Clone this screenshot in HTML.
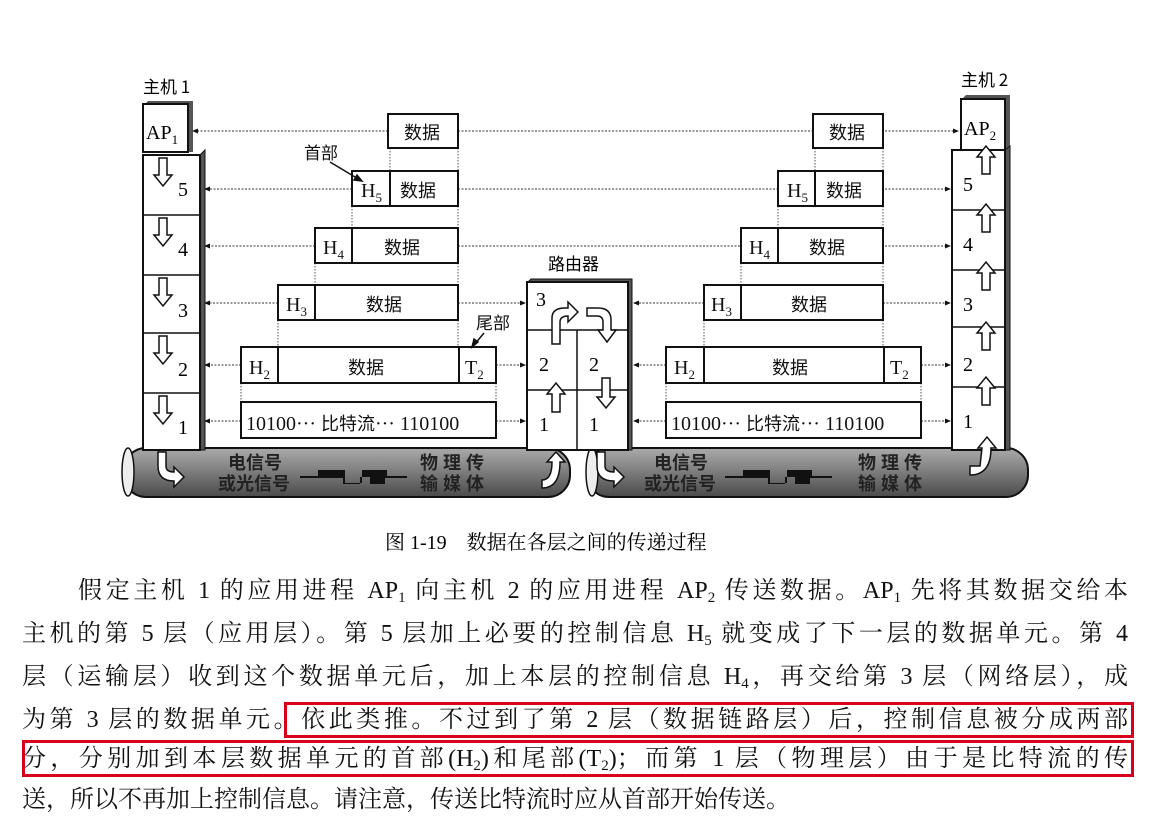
<!DOCTYPE html>
<html><head><meta charset="utf-8"><style>
html,body{margin:0;padding:0;background:#fff;}
body{width:1159px;height:819px;position:relative;overflow:hidden;font-family:"Liberation Serif","Noto Serif CJK SC",serif;color:#111;}
svg{position:absolute;left:0;top:0;}
.ln{position:absolute;left:22px;width:1106px;font-size:24px;line-height:30px;height:30px;text-align:justify;text-align-last:justify;white-space:nowrap;}
.ln sub{font-size:15px;vertical-align:-4px;line-height:0;}
.rb{position:absolute;border:3px solid #d9001b;box-sizing:border-box;}
</style></head><body>
<svg width="1159" height="819" viewBox="0 0 1159 819" font-family="Liberation Serif, Noto Serif CJK SC, serif">
<defs>
<linearGradient id="cab" x1="0" y1="0" x2="0" y2="1">
<stop offset="0" stop-color="#aaa"/><stop offset="0.35" stop-color="#8a8a8a"/><stop offset="1" stop-color="#4a4a4a"/>
</linearGradient>
<marker id="ah" markerWidth="6" markerHeight="6" refX="5" refY="3" orient="auto"><path d="M0,0.5 L6,3 L0,5.5Z" fill="#111"/></marker>
</defs>
<!-- cables -->
<rect x="124" y="448" width="446" height="49" rx="22" fill="url(#cab)" stroke="#111" stroke-width="2"/>
<ellipse cx="128" cy="472" rx="6" ry="24" fill="#eee" stroke="#111" stroke-width="1.5"/>
<rect x="587" y="448" width="441" height="49" rx="22" fill="url(#cab)" stroke="#111" stroke-width="2"/>
<ellipse cx="592" cy="472" rx="6" ry="24" fill="#eee" stroke="#111" stroke-width="1.5"/>
<g font-family="Noto Sans CJK SC, sans-serif" font-size="18" font-weight="bold" fill="#222">
<text x="228" y="469">电信号</text><text x="218" y="490">或光信号</text>
<text x="420" y="469" letter-spacing="5">物理传</text><text x="420" y="490" letter-spacing="5">输媒体</text>
<text x="654" y="469">电信号</text><text x="644" y="490">或光信号</text>
<text x="858" y="469" letter-spacing="5">物理传</text><text x="858" y="490" letter-spacing="5">输媒体</text>
</g>
<g fill="#111">
<path d="M300,476 L318,476 L318,470 L345,470 L345,483 L362,483 L362,470 L387,470 L387,476 L407,476 L407,478 L385,478 L385,484 L370,484 L370,477 L360,477 L360,484 L343,484 L343,478 L300,478Z"/>
<path d="M725,476 L743,476 L743,470 L770,470 L770,483 L787,483 L787,470 L812,470 L812,476 L832,476 L832,478 L810,478 L810,484 L795,484 L795,477 L785,477 L785,484 L768,484 L768,478 L725,478Z"/>
</g>
<!-- host1 -->
<text x="143" y="93" font-family="Noto Sans CJK SC, sans-serif" font-size="17">主机 1</text>
<path d="M143,106 L148,101 L193,101 L193,152 L188,152 Z" fill="#555"/>
<rect x="143" y="104" width="45" height="48" fill="#fff" stroke="#111" stroke-width="2"/>
<text x="146" y="139" font-size="20">AP<tspan font-size="13" dy="5">1</tspan></text>
<path d="M200,155 L205,150 L205,450 L200,450Z" fill="#555" stroke="#111"/>
<rect x="143" y="155" width="57" height="295" fill="#fff" stroke="#111" stroke-width="2"/>
<g stroke="#111" stroke-width="1.5"><line x1="143" y1="215" x2="200" y2="215"/><line x1="143" y1="275" x2="200" y2="275"/><line x1="143" y1="333" x2="200" y2="333"/><line x1="143" y1="393" x2="200" y2="393"/></g>
<g font-size="20"><text x="178" y="196">5</text><text x="178" y="256">4</text><text x="178" y="317">3</text><text x="178" y="376">2</text><text x="178" y="434">1</text></g>
<g fill="#fff" stroke="#111" stroke-width="1.5">
<path d="M159,158 L167,158 L167,175 L172,175 L163,186 L154,175 L159,175Z"/>
<path d="M159,218 L167,218 L167,235 L172,235 L163,246 L154,235 L159,235Z"/>
<path d="M159,278 L167,278 L167,295 L172,295 L163,306 L154,295 L159,295Z"/>
<path d="M159,336 L167,336 L167,353 L172,353 L163,364 L154,353 L159,353Z"/>
<path d="M159,396 L167,396 L167,413 L172,413 L163,424 L154,413 L159,413Z"/>
<path d="M158,452 L166,452 L166,466 Q166,472 174,472 L174,467 L184,477 L174,487 L174,481 Q158,481 158,466Z"/>
</g>
<!-- host2 -->
<text x="961" y="86" font-family="Noto Sans CJK SC, sans-serif" font-size="17">主机 2</text>
<path d="M961,100 L966,95 L1010,95 L1010,150 L1005,150Z" fill="#555"/>
<rect x="961" y="99" width="44" height="51" fill="#fff" stroke="#111" stroke-width="2"/>
<text x="964" y="135" font-size="20">AP<tspan font-size="13" dy="5">2</tspan></text>
<path d="M1005,150 L1010,146 L1010,450 L1005,450Z" fill="#555" stroke="#111"/>
<rect x="952" y="150" width="53" height="300" fill="#fff" stroke="#111" stroke-width="2"/>
<g stroke="#111" stroke-width="1.5"><line x1="952" y1="210" x2="1005" y2="210"/><line x1="952" y1="270" x2="1005" y2="270"/><line x1="952" y1="327" x2="1005" y2="327"/><line x1="952" y1="387" x2="1005" y2="387"/></g>
<g font-size="20"><text x="963" y="191">5</text><text x="963" y="251">4</text><text x="963" y="311">3</text><text x="963" y="371">2</text><text x="963" y="428">1</text></g>
<g fill="#fff" stroke="#111" stroke-width="1.5">
<path d="M982,174 L990,174 L990,157 L995,157 L986,146 L977,157 L982,157Z"/>
<path d="M982,232 L990,232 L990,215 L995,215 L986,204 L977,215 L982,215Z"/>
<path d="M982,290 L990,290 L990,273 L995,273 L986,262 L977,273 L982,273Z"/>
<path d="M982,350 L990,350 L990,333 L995,333 L986,322 L977,333 L982,333Z"/>
<path d="M982,405 L990,405 L990,388 L995,388 L986,377 L977,388 L982,388Z"/>
<path d="M970,466 L980,466 Q982,448 982,448 L978,448 L987,437 L996,448 L991,448 Q991,475 970,475Z"/>
</g>
<!-- router -->
<text x="548" y="270" font-family="Noto Sans CJK SC, sans-serif" font-size="17">路由器</text>
<path d="M527,283 L531,279 L632,279 L632,450 L628,450 L628,283Z" fill="#555" stroke="#111"/>
<rect x="527" y="282" width="101" height="168" fill="#fff" stroke="#111" stroke-width="2"/>
<g stroke="#111" stroke-width="1.5"><line x1="527" y1="330" x2="628" y2="330"/><line x1="527" y1="390" x2="628" y2="390"/><line x1="577" y1="330" x2="577" y2="450"/></g>
<g font-size="20"><text x="536" y="306">3</text><text x="539" y="371">2</text><text x="589" y="371">2</text><text x="539" y="431">1</text><text x="589" y="431">1</text></g>
<g fill="#fff" stroke="#111" stroke-width="1.5">
<path d="M552,344 L552,318 Q552,308 565,308 L568,308 L568,302 L578,312 L568,322 L568,316 Q560,316 560,322 L560,344Z"/>
<path d="M587,308 L598,308 Q611,308 611,320 L611,330 L616,330 L607,342 L598,330 L603,330 L603,322 Q603,316 597,316 L587,316Z"/>
<path d="M552,412 L560,412 L560,394 L565,394 L556,383 L547,394 L552,394Z"/>
<path d="M602,378 L610,378 L610,397 L615,397 L606,408 L597,397 L602,397Z"/>
<path d="M542,480 Q552,480 552,462 L547,462 L556,452 L565,462 L560,462 Q560,488 542,488Z"/>
<path d="M597,452 L605,452 L605,466 Q605,472 614,472 L614,467 L624,477 L614,487 L614,481 Q597,481 597,466Z"/>
</g>
<!-- dashed lines -->
<g stroke="#333" stroke-width="1" stroke-dasharray="2 1.5" fill="none" marker-end="url(#ah)">
<line x1="388" y1="131" x2="193" y2="131"/><line x1="458" y1="131" x2="958" y2="131"/>
<line x1="352" y1="189" x2="205" y2="189"/><line x1="458" y1="189" x2="950" y2="189"/>
<line x1="315" y1="246" x2="205" y2="246"/><line x1="458" y1="246" x2="950" y2="246"/>
<line x1="278" y1="303" x2="205" y2="303"/><line x1="458" y1="303" x2="525" y2="303"/>
<line x1="241" y1="365" x2="205" y2="365"/><line x1="496" y1="365" x2="525" y2="365"/>
<line x1="241" y1="421" x2="205" y2="421"/><line x1="496" y1="421" x2="525" y2="421"/>
<line x1="704" y1="303" x2="634" y2="303"/><line x1="883" y1="303" x2="950" y2="303"/>
<line x1="666" y1="365" x2="634" y2="365"/><line x1="921" y1="365" x2="950" y2="365"/>
<line x1="666" y1="421" x2="634" y2="421"/><line x1="921" y1="421" x2="950" y2="421"/>
</g>
<g stroke="#555" stroke-width="1" stroke-dasharray="1.5 1.5">
<line x1="390" y1="148" x2="390" y2="171"/><line x1="458" y1="148" x2="458" y2="171"/>
<line x1="352" y1="206" x2="352" y2="228"/><line x1="458" y1="206" x2="458" y2="228"/>
<line x1="315" y1="263" x2="315" y2="285"/><line x1="458" y1="263" x2="458" y2="285"/>
<line x1="278" y1="320" x2="278" y2="347"/><line x1="458" y1="320" x2="458" y2="347"/>
<line x1="241" y1="383" x2="241" y2="402"/><line x1="496" y1="383" x2="496" y2="402"/>
<line x1="815" y1="148" x2="815" y2="171"/><line x1="883" y1="148" x2="883" y2="171"/>
<line x1="778" y1="206" x2="778" y2="228"/><line x1="883" y1="206" x2="883" y2="228"/>
<line x1="741" y1="263" x2="741" y2="285"/><line x1="883" y1="263" x2="883" y2="285"/>
<line x1="704" y1="320" x2="704" y2="347"/><line x1="883" y1="320" x2="883" y2="347"/>
<line x1="666" y1="383" x2="666" y2="402"/><line x1="921" y1="383" x2="921" y2="402"/>
</g>
<!-- data boxes -->
<g fill="#fff" stroke="#111" stroke-width="2">
<rect x="388" y="114" width="70" height="34"/>
<rect x="352" y="171" width="106" height="35"/><line x1="390" y1="171" x2="390" y2="206"/>
<rect x="315" y="228" width="143" height="35"/><line x1="352" y1="228" x2="352" y2="263"/>
<rect x="278" y="285" width="180" height="35"/><line x1="315" y1="285" x2="315" y2="320"/>
<rect x="241" y="347" width="255" height="36"/><line x1="278" y1="347" x2="278" y2="383"/><line x1="459" y1="347" x2="459" y2="383"/>
<rect x="241" y="402" width="255" height="36"/>
<rect x="813" y="114" width="70" height="34"/>
<rect x="778" y="171" width="105" height="35"/><line x1="815" y1="171" x2="815" y2="206"/>
<rect x="741" y="228" width="142" height="35"/><line x1="778" y1="228" x2="778" y2="263"/>
<rect x="704" y="285" width="179" height="35"/><line x1="741" y1="285" x2="741" y2="320"/>
<rect x="666" y="347" width="255" height="36"/><line x1="704" y1="347" x2="704" y2="383"/><line x1="884" y1="347" x2="884" y2="383"/>
<rect x="666" y="402" width="255" height="36"/>
</g>
<g font-size="20" fill="#111">
<g font-family="Noto Sans CJK SC, sans-serif" font-size="18">
<text x="404" y="139">数据</text><text x="400" y="197">数据</text><text x="384" y="254">数据</text><text x="366" y="311">数据</text><text x="348" y="374">数据</text>
<text x="829" y="139">数据</text><text x="826" y="197">数据</text><text x="809" y="254">数据</text><text x="791" y="311">数据</text><text x="772" y="374">数据</text>
<text x="304" y="159" font-size="17">首部</text><text x="476" y="329" font-size="17">尾部</text>
</g>
<text x="361" y="197">H<tspan font-size="13" dy="5">5</tspan></text>
<text x="323" y="254">H<tspan font-size="13" dy="5">4</tspan></text>
<text x="286" y="311">H<tspan font-size="13" dy="5">3</tspan></text>
<text x="249" y="374">H<tspan font-size="13" dy="5">2</tspan></text>
<text x="465" y="374">T<tspan font-size="13" dy="5">2</tspan></text>
<text x="246" y="430">10100··· <tspan font-family="Noto Sans CJK SC, sans-serif" font-size="18">比特流</tspan>··· 110100</text>
<text x="787" y="197">H<tspan font-size="13" dy="5">5</tspan></text>
<text x="749" y="254">H<tspan font-size="13" dy="5">4</tspan></text>
<text x="711" y="311">H<tspan font-size="13" dy="5">3</tspan></text>
<text x="674" y="374">H<tspan font-size="13" dy="5">2</tspan></text>
<text x="890" y="374">T<tspan font-size="13" dy="5">2</tspan></text>
<text x="671" y="430">10100··· <tspan font-family="Noto Sans CJK SC, sans-serif" font-size="18">比特流</tspan>··· 110100</text>
</g>
<g stroke="#111" stroke-width="1.5" fill="#111">
<line x1="330" y1="162" x2="360" y2="180"/><path d="M362,181 L354,180 L357,175Z"/>
<line x1="484" y1="333" x2="474" y2="345"/><path d="M472,347 L474,339 L478,342Z"/>
</g>
<text x="385" y="549" font-size="20">图 1-19　<tspan font-family="Noto Serif CJK SC, serif" font-size="20">数据在各层之间的传递过程</tspan></text>
</svg>
<div class="ln" style="top:576px;left:78px;width:1050px;">假定主机 1 的应用进程 AP<sub>1</sub> 向主机 2 的应用进程 AP<sub>2</sub> 传送数据。AP<sub>1</sub> 先将其数据交给本</div>
<div class="ln" style="top:619px;">主机的第 5 层（应用层）。第 5 层加上必要的控制信息 H<sub>5</sub> 就变成了下一层的数据单元。第 4</div>
<div class="ln" style="top:662px;">层（运输层）收到这个数据单元后，加上本层的控制信息 H<sub>4</sub>，再交给第 3 层（网络层），成</div>
<div class="ln" style="top:705px;">为第 3 层的数据单元。依此类推。不过到了第 2 层（数据链路层）后，控制信息被分成两部</div>
<div class="ln" style="top:744px;">分，分别加到本层数据单元的首部(H<sub>2</sub>)和尾部(T<sub>2</sub>)；而第 1 层（物理层）由于是比特流的传</div>
<div class="ln" style="top:785px;width:auto;text-align-last:auto;">送，所以不再加上控制信息。请注意，传送比特流时应从首部开始传送。</div>
<div class="rb" style="left:284px;top:702px;width:850px;height:36px;"></div>
<div class="rb" style="left:22px;top:740px;width:1112px;height:37px;"></div>
</body></html>
